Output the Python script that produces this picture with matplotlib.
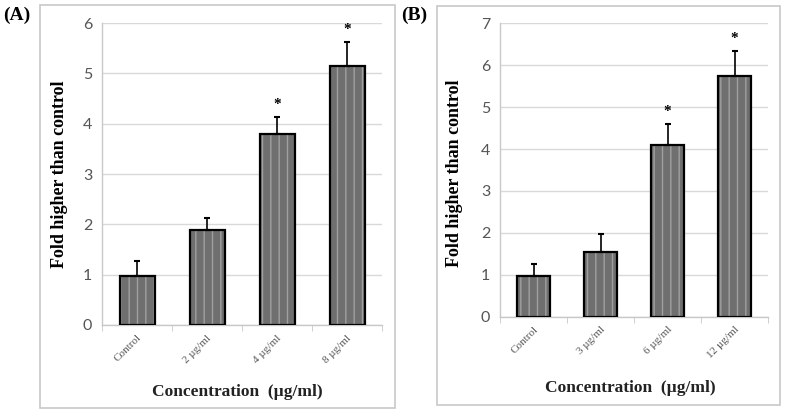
import numpy as np
import matplotlib
matplotlib.use("Agg")
import matplotlib.pyplot as plt
from matplotlib.patches import Rectangle

# Dados
categorias_a = ['Control', '2 µg/ml', '4 µg/ml', '8 µg/ml']
valores_a = [0.98, 1.89, 3.80, 5.15]
erros_a = [0.29, 0.24, 0.33, 0.47]
signif_a = [False, False, True, True]

categorias_b = ['Control', '3 µg/ml', '6 µg/ml', '12 µg/ml']
valores_b = [0.96, 1.55, 4.10, 5.74]
erros_b = [0.30, 0.43, 0.50, 0.60]
signif_b = [False, False, True, True]

SERIF = 'Liberation Serif'
SANS = 'Lato'


def desenhar_painel(fig, ret, categorias, valores, erros, signif, ymax, letra,
                    caixa, pos_letra, pos_ylabel, pos_xlabel):
    # moldura cinza em volta do painel
    fig.patches.append(Rectangle((caixa[0], caixa[1]), caixa[2], caixa[3],
                                 transform=fig.transFigure, fill=False,
                                 edgecolor='#c8c8c8', linewidth=1.2))
    fig.text(pos_letra[0], pos_letra[1], letra, fontsize=14, fontweight='bold',
             family=SERIF, ha='left', va='center')

    ax = fig.add_axes(ret)
    x = np.arange(len(categorias))
    ax.set_axisbelow(True)
    ax.yaxis.grid(True, color='#d9d9d9', linewidth=1)

    plt.rcParams['hatch.linewidth'] = 1.0
    ax.bar(x, valores, width=0.5, color='#6f6f6f', edgecolor='#a0a0a0',
           hatch='||', linewidth=0, zorder=2)
    ax.bar(x, valores, width=0.5, fill=False, edgecolor='black',
           linewidth=1.6, zorder=3)
    ax.errorbar(x, valores, yerr=[np.zeros(len(erros)), erros], fmt='none',
                ecolor='black', elinewidth=1.2, capsize=2.5, capthick=1.5, zorder=4)

    for xi, v, e, s in zip(x, valores, erros, signif):
        if s:
            ax.text(xi, v + e + ymax * 0.02, '*', ha='center', va='bottom',
                    fontsize=11, fontweight='bold', family=SERIF)

    ax.set_xlim(-0.5, len(categorias) - 0.5)
    ax.set_ylim(0, ymax)
    ax.set_yticks(range(0, ymax + 1))
    ax.tick_params(axis='y', length=0, labelsize=11.5, labelcolor='#555555', pad=7)
    for t in ax.get_yticklabels():
        t.set_family(SANS)

    ax.set_xticks(x)
    ax.set_xticklabels(categorias, rotation=45, ha='right', rotation_mode='anchor',
                       fontsize=8, color='#555555', family=SERIF)
    ax.tick_params(axis='x', length=0, pad=6)
    ax.set_xticks(np.arange(-0.5, len(categorias)), minor=True)
    ax.tick_params(axis='x', which='minor', length=4, color='#c8c8c8')

    for lado in ['top', 'right']:
        ax.spines[lado].set_visible(False)
    for lado in ['left', 'bottom']:
        ax.spines[lado].set_color('#c8c8c8')
        ax.spines[lado].set_linewidth(1)

    ax.set_ylabel('Fold higher than control', fontsize=13, fontweight='bold',
                  family=SERIF, va='center')
    ax.yaxis.set_label_coords(*pos_ylabel)
    ax.set_xlabel('Concentration  (µg/ml)', fontsize=12.5, fontweight='bold',
                  family=SERIF, color='#222222', va='center')
    ax.xaxis.set_label_coords(*pos_xlabel)
    return ax


def main():
    W, H = 787, 415
    fig = plt.figure(figsize=(W / 100, H / 100), dpi=100)

    desenhar_painel(fig, [102 / W, 1 - 325 / H, 280 / W, 302 / H],
                    categorias_a, valores_a, erros_a, signif_a, 6, '(A)',
                    (40 / W, 1 - 408 / H, 355 / W, 403 / H), (3 / W, 1 - 15 / H),
                    (-0.15, 0.5), (0.482, -0.222))
    desenhar_painel(fig, [500 / W, 1 - 316.7 / H, 268 / W, 293.4 / H],
                    categorias_b, valores_b, erros_b, signif_b, 7, '(B)',
                    (437 / W, 1 - 405 / H, 343 / W, 399 / H), (401 / W, 1 - 15 / H),
                    (-0.168, 0.49), (0.485, -0.243))

    fig.savefig('out.png', dpi=100)


if __name__ == "__main__":
    main()
